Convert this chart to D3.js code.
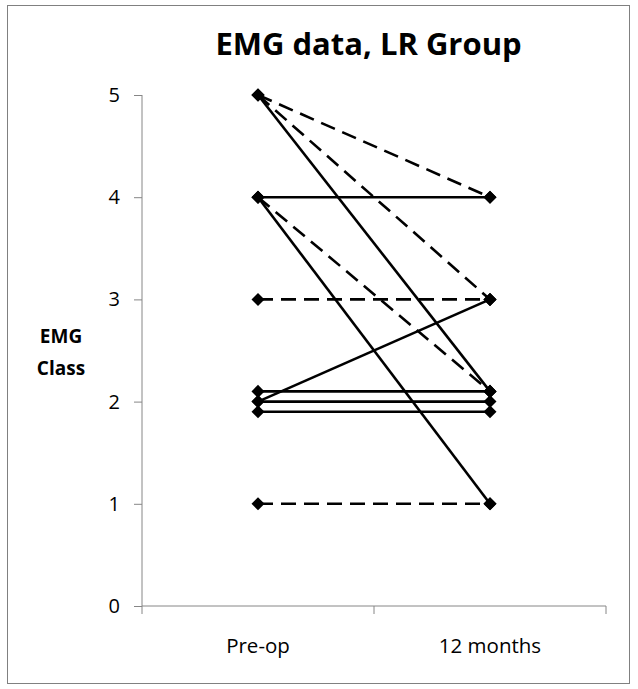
<!DOCTYPE html>
<html><head><meta charset="utf-8">
<script src="https://cdn.jsdelivr.net/npm/d3@7"></script>
<style>body{margin:0;background:#fff;} svg{display:block;}</style>
</head><body>
<script>
const categories = ["Pre-op", "12 months"];
const preOp    = [5, 5, 5, 4, 4, 4, 3, 2, 2.1, 2, 1.9, 1];
const months12 = [4, 3, 2.1, 4, 2.1, 1, 3, 3, 2.1, 2, 1.9, 1];
const dashed   = [true, true, false, false, true, false, true, false, false, false, false, true];
const yTicks = [0, 1, 2, 3, 4, 5];

(function () {
const W = 638, H = 689;
const svg = d3.select("body").append("svg").attr("width", W).attr("height", H);
svg.append("rect").attr("x", 7.5).attr("y", 5.5).attr("width", 622).attr("height", 678)
  .attr("fill", "#fff").attr("stroke", "#808080").attr("stroke-width", 1);

const mLeft = 142, mRight = 606, mTop = 95, mBottom = 606;
const x = d3.scaleBand().domain(categories).range([mLeft, mRight]);
const y = d3.scaleLinear().domain([0, 5]).range([mBottom, mTop]);
const font = "'Open Sans', Lato, sans-serif";

// y axis
const ya = svg.append("g").attr("transform", `translate(${mLeft},0)`)
  .call(d3.axisLeft(y).tickValues(yTicks).tickSize(8).tickPadding(14).tickFormat(d3.format("d")));
ya.select(".domain").attr("stroke", "#868686").attr("d", `M0,${mBottom}V${mTop}`);
ya.selectAll(".tick line").attr("stroke", "#868686");
ya.selectAll(".tick text").attr("font-family", font).attr("font-size", 20).attr("fill", "#000");

// x axis
const xa = svg.append("g").attr("transform", `translate(0,${mBottom})`)
  .call(d3.axisBottom(x).tickSize(0).tickPadding(32));
xa.select(".domain").attr("stroke", "#868686").attr("d", `M${mLeft},0H${mRight}`);
xa.selectAll(".tick text").attr("font-family", font).attr("font-size", 20.5).attr("fill", "#000");
const bounds = [mLeft, mLeft + x.bandwidth(), mRight];
xa.selectAll(".bt").data(bounds).enter().append("line")
  .attr("x1", d => d).attr("x2", d => d).attr("y1", 0).attr("y2", 8)
  .attr("stroke", "#868686");

// lines
const xp = x("Pre-op") + x.bandwidth() / 2, xm = x("12 months") + x.bandwidth() / 2;
const g = svg.append("g");
preOp.forEach((v, i) => {
  g.append("line").attr("x1", xp).attr("y1", y(v)).attr("x2", xm).attr("y2", y(months12[i]))
    .attr("stroke", "#000").attr("stroke-width", 2.6)
    .attr("stroke-dasharray", dashed[i] ? "15,8" : null);
});
const sym = d3.symbol().type(d3.symbolSquare).size(85);
preOp.forEach((v, i) => {
  [[xp, v], [xm, months12[i]]].forEach(([px, pv]) => {
    g.append("path").attr("d", sym).attr("transform", `translate(${px},${y(pv)}) rotate(45)`).attr("fill", "#000");
  });
});

// title
svg.append("text").attr("x", 368.5).attr("y", 55).attr("text-anchor", "middle")
  .attr("font-family", font).attr("font-weight", "bold").attr("font-size", 31)
  .text("EMG data, LR Group");
// y label
const yl = svg.append("text").attr("text-anchor", "middle")
  .attr("font-family", font).attr("font-weight", "bold").attr("font-size", 19);
yl.append("tspan").attr("x", 61).attr("y", 343).text("EMG");
yl.append("tspan").attr("x", 61).attr("y", 375).text("Class");
})();
</script>
</body></html>
